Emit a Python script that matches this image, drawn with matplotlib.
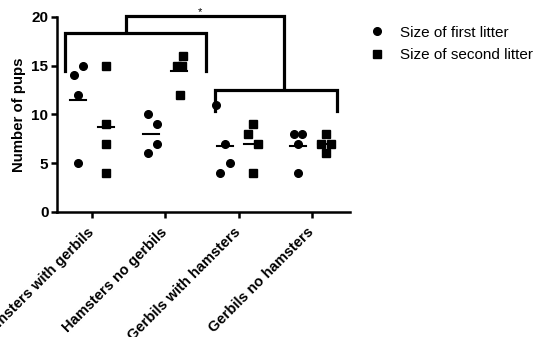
import numpy as np
import matplotlib.pyplot as plt
from matplotlib.lines import Line2D

plt.rcParams['font.family'] = ['Liberation Sans', 'DejaVu Sans']

# categorias e dados
grupos = ['Hamsters with gerbils', 'Hamsters no gerbils',
          'Gerbils with hamsters', 'Gerbils no hamsters']
primeira_ninhada = [[14, 15, 12, 5], [10, 9, 7, 6], [11, 7, 5, 4], [8, 8, 7, 4]]
segunda_ninhada = [[15, 9, 7, 4], [16, 15, 15, 12], [9, 8, 7, 4], [8, 7, 7, 6]]

# deslocamento horizontal dos pontos (espalhamento tipo GraphPad)
jitter_1 = [[-0.05, 0.07, 0.0, 0.0], [-0.05, 0.07, 0.07, -0.05],
            [-0.12, 0.0, 0.07, -0.06], [-0.06, 0.05, 0.0, 0.0]]
jitter_2 = [[0.0, 0.0, 0.0, 0.0], [0.05, -0.03, 0.04, 0.01],
            [0.0, -0.06, 0.07, 0.0], [0.0, -0.07, 0.07, 0.0]]

fig = plt.figure(figsize=(5.41, 3.37), dpi=100)
ax = fig.add_axes([0.105, 0.371, 0.542, 0.579])

off = 0.19
for i in range(len(grupos)):
    x1 = i - off + np.array(jitter_1[i])
    x2 = i + off + np.array(jitter_2[i])
    ax.plot(x1, primeira_ninhada[i], 'o', color='black', ms=5.5, clip_on=False)
    ax.plot(x2, segunda_ninhada[i], 's', color='black', ms=5.2, clip_on=False)
    m1 = np.mean(primeira_ninhada[i])
    m2 = np.mean(segunda_ninhada[i])
    ax.plot([i - off - 0.11, i - off + 0.11], [m1, m1], color='black', lw=1.5)
    ax.plot([i + off - 0.11, i + off + 0.11], [m2, m2], color='black', lw=1.5)

# colchetes de significancia
kw = dict(color='black', lw=2.3, clip_on=False, solid_joinstyle='miter')
ax.plot([-0.37, -0.37, 1.55, 1.55], [14.4, 18.3, 18.3, 14.4], **kw)
ax.plot([1.68, 1.68, 3.34, 3.34], [10.3, 12.5, 12.5, 10.3], **kw)
ax.plot([0.47, 0.47, 2.62, 2.62], [18.7, 20.1, 20.1, 12.8], **kw)
ax.text(1.47, 20.5, '*', ha='center', va='center', fontsize=8)

ax.set_xlim(-0.48, 3.52)
ax.set_ylim(0, 20)
ax.set_yticks([0, 5, 10, 15, 20])
ax.set_xticks(range(len(grupos)))
ax.set_xticklabels(grupos, rotation=45, ha='right', va='center',
                   rotation_mode='anchor', fontsize=10.5, fontweight='bold')
for t in ax.get_yticklabels():
    t.set_fontweight('bold')
    t.set_fontsize(11)
ax.set_ylabel('Number of pups', fontsize=10.8, fontweight='bold', labelpad=4)

for s in ['top', 'right']:
    ax.spines[s].set_visible(False)
for s in ['left', 'bottom']:
    ax.spines[s].set_linewidth(1.8)
ax.tick_params(width=1.8, length=4, pad=2)
ax.tick_params(axis='x', pad=9)

handles = [Line2D([], [], marker='o', ls='', color='black', ms=5.5),
           Line2D([], [], marker='s', ls='', color='black', ms=5.2)]
fig.legend(handles, ['Size of first litter', 'Size of second litter'],
           loc='upper left', bbox_to_anchor=(0.655, 0.965), frameon=False,
           fontsize=11, handletextpad=0.9, labelspacing=0.55, handlelength=1.2)

fig.savefig('out.png', dpi=100)
